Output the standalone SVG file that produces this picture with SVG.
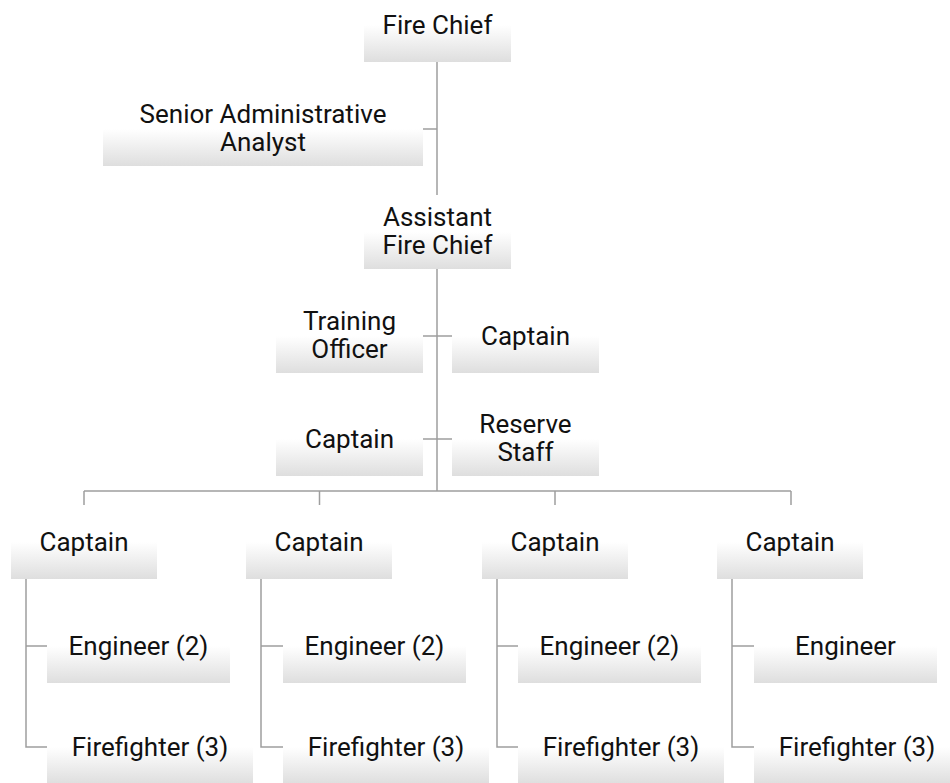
<svg xmlns="http://www.w3.org/2000/svg" width="950" height="783" viewBox="0 0 950 783">
<defs>
<linearGradient id="g" x1="0" y1="0" x2="0" y2="1">
<stop offset="0" stop-color="#ffffff"/>
<stop offset="0.5" stop-color="#ffffff"/>
<stop offset="1" stop-color="#dedede"/>
</linearGradient>
</defs>
<style>
rect{fill:url(#g);}
text{font-family:Roboto,"Liberation Sans",sans-serif;font-size:26px;fill:#111;text-anchor:middle;}
.c{fill:none;stroke:#9e9e9e;stroke-width:1.5;}
</style>
<rect x="0" y="0" width="950" height="783" style="fill:#fff"/>
<g id="connectors" class="c">
<path d="M437 62V195M437 269V491M423 129H437M423 336H452M423 439H452M84 491H791M84 491V505M319.5 491V505M555 491V505M791 491V505"/>
<path d="M26 579V747H47M26 646H47"/>
<path d="M261 579V747H283M261 646H283"/>
<path d="M497 579V747H518M497 646H518"/>
<path d="M732 579V747H754M732 646H754"/>
</g>
<g id="fire-chief"><rect x="364" y="-12" width="147" height="74"/><text x="437.5" y="33.5">Fire Chief</text></g>
<g id="senior-admin"><rect x="103" y="92" width="320" height="74"/><text x="263" y="123">Senior Administrative</text><text x="263" y="151">Analyst</text></g>
<g id="assistant-chief"><rect x="364" y="195" width="147" height="74"/><text x="437.5" y="226">Assistant</text><text x="437.5" y="254">Fire Chief</text></g>
<g id="training-officer"><rect x="276" y="299" width="147" height="74"/><text x="349.5" y="330">Training</text><text x="349.5" y="358">Officer</text></g>
<g id="captain-r1"><rect x="452" y="299" width="147" height="74"/><text x="525.5" y="344.5">Captain</text></g>
<g id="captain-l2"><rect x="276" y="402" width="147" height="74"/><text x="349.5" y="447.5">Captain</text></g>
<g id="reserve-staff"><rect x="452" y="402" width="147" height="74"/><text x="525.5" y="433">Reserve</text><text x="525.5" y="461">Staff</text></g>
<g id="captain-c1"><rect x="11" y="505" width="146" height="74"/><text x="84" y="550.5">Captain</text></g>
<g id="captain-c2"><rect x="246" y="505" width="146" height="74"/><text x="319" y="550.5">Captain</text></g>
<g id="captain-c3"><rect x="482" y="505" width="146" height="74"/><text x="555" y="550.5">Captain</text></g>
<g id="captain-c4"><rect x="717" y="505" width="146" height="74"/><text x="790" y="550.5">Captain</text></g>
<g id="engineer-c1"><rect x="47" y="609" width="183" height="74"/><text x="138.5" y="654.5">Engineer (2)</text></g>
<g id="engineer-c2"><rect x="283" y="609" width="183" height="74"/><text x="374.5" y="654.5">Engineer (2)</text></g>
<g id="engineer-c3"><rect x="518" y="609" width="183" height="74"/><text x="609.5" y="654.5">Engineer (2)</text></g>
<g id="engineer-c4"><rect x="754" y="609" width="183" height="74"/><text x="845.5" y="654.5">Engineer</text></g>
<g id="firefighter-c1"><rect x="47" y="710" width="206" height="74"/><text x="150" y="756">Firefighter (3)</text></g>
<g id="firefighter-c2"><rect x="283" y="710" width="206" height="74"/><text x="386" y="756">Firefighter (3)</text></g>
<g id="firefighter-c3"><rect x="518" y="710" width="206" height="74"/><text x="621" y="756">Firefighter (3)</text></g>
<g id="firefighter-c4"><rect x="754" y="710" width="206" height="74"/><text x="857" y="756">Firefighter (3)</text></g>
</svg>
